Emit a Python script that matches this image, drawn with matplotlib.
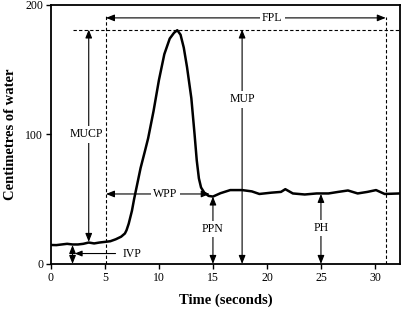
import matplotlib
matplotlib.use("Agg")
import matplotlib.pyplot as plt

# pressure trace
time_s = [0, 0.5, 1.0, 1.5, 2.0, 2.5, 3.0, 3.5, 4.0, 4.5, 5.0, 5.5, 6.0, 6.5, 6.85,
          7.0, 7.2, 7.5, 7.7, 8.0, 8.3, 8.7, 9.0, 9.5, 10.0, 10.5, 11.0, 11.4,
          11.7, 12.0, 12.3, 12.6, 13.0, 13.3, 13.5, 13.7, 13.9, 14.2, 14.6, 15.0,
          15.7, 16.6, 17.7, 18.6, 19.3, 20.4, 21.3, 21.7, 22.4, 23.5, 24.6, 25.7,
          26.6, 27.5, 28.4, 29.3, 30.1, 30.9, 32.3]
pressure = [14.6, 14.5, 15.0, 15.5, 15.0, 15.0, 15.5, 16.5, 15.8, 16.5, 17.0, 17.5,
            19.0, 21.0, 23.5, 26.0, 31.0, 41.0, 50.0, 62.0, 74.0, 87.0, 97.0,
            118.0, 142.0, 162.0, 174.0, 178.5, 180.5, 177.0, 167.0, 152.0, 128.0,
            100.0, 80.0, 66.0, 59.0, 55.0, 52.5, 52.0, 54.6, 57.0, 57.0, 56.0,
            54.0, 55.0, 55.6, 57.7, 54.4, 53.6, 54.4, 54.4, 55.6, 56.7, 54.4,
            55.6, 57.0, 54.0, 54.4]

x_ticks = [0, 5, 10, 15, 20, 25, 30]
y_ticks = [0, 100, 200]

max_p = 181
wpp_start, fpl_end = 5.1, 31.0

plt.rcParams['font.family'] = ['Liberation Serif', 'DejaVu Serif']

fig = plt.figure(figsize=(4.01, 3.09), dpi=100)
ax = fig.add_axes([0.127, 0.146, 0.870, 0.838])

ax.plot(time_s, pressure, color="black", lw=1.8, zorder=3)

dash = dict(color="black", lw=0.8, ls=(0, (3, 2)))
ax.plot([2.0, 32.3], [max_p, max_p], **dash)
ax.plot([wpp_start, wpp_start], [0, 192], **dash)
ax.plot([fpl_end, fpl_end], [0, 191], **dash)

def arrow(x0, y0, x1, y1, style="<|-|>"):
    ax.annotate("", xy=(x1, y1), xytext=(x0, y0),
                arrowprops=dict(arrowstyle=style + ",head_length=0.5,head_width=0.2",
                                color="black", lw=0.8, shrinkA=0, shrinkB=0))

box = dict(facecolor="white", edgecolor="none", pad=1.5)
def label(x, y, s):
    ax.text(x, y, s, ha="center", va="center", fontsize=8.5, bbox=box, zorder=5)

arrow(3.5, max_p, 3.5, 17)
label(3.3, 100, "MUCP")

arrow(17.7, 0, 17.7, max_p)
label(17.7, 127, "MUP")

arrow(wpp_start, 190, fpl_end, 190)
label(20.5, 190, "FPL")

arrow(wpp_start, 54, 14.7, 54)
label(10.6, 54, "WPP")

arrow(2.0, 0, 2.0, 14.5)
ax.annotate("IVP", xy=(2.2, 8), xytext=(7.5, 8), ha="center", va="center",
            fontsize=8.5,
            arrowprops=dict(arrowstyle="-|>,head_length=0.5,head_width=0.2",
                            color="black", lw=0.8, shrinkB=0, shrinkA=3))

arrow(15.0, 0, 15.0, 52)
label(15.0, 27, "PPN")

arrow(25.0, 0, 25.0, 54)
label(25.0, 28, "PH")

ax.set_xlim(0, 32.3)
ax.set_ylim(0, 200)
ax.set_xticks(x_ticks)
ax.set_yticks(y_ticks)
ax.tick_params(direction="out", length=3.5, width=1, labelsize=8.5, pad=2)
for sp in ax.spines.values():
    sp.set_linewidth(1.3)

ax.set_xlabel("Time (seconds)", fontsize=10.5, fontweight="bold", labelpad=7)
ax.set_ylabel("Centimetres of water", fontsize=10.5, fontweight="bold", labelpad=6)

fig.savefig("out.png", dpi=100)
